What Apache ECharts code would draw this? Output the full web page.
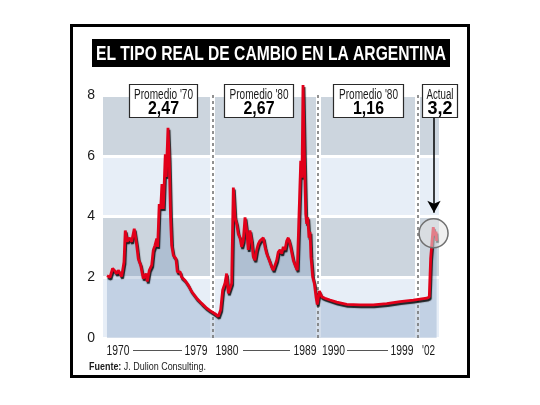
<!DOCTYPE html>
<html>
<head>
<meta charset="utf-8">
<script src="https://cdn.jsdelivr.net/npm/echarts@6.0.0/dist/echarts.min.js"></script>
<style>
html,body{margin:0;padding:0;background:#fff;}
#tipoCambioChart{width:540px;height:405px;}
</style>
</head>
<body>
<div id="tipoCambioChart"></div>
<script>
var FONT = '"Liberation Sans",Arial,sans-serif';

// tipo real de cambio [año, valor]
var serie70 = [[1970.0,2.05],[1970.29,2.0],[1970.54,2.29],[1970.77,2.2],[1970.93,2.12],[1971.08,2.23],[1971.4,2.02],
    [1971.63,2.5],[1971.75,3.54],[1971.94,3.17],[1972.13,3.3],[1972.36,3.17],[1972.61,3.6],[1972.84,3.07],[1973.0,2.6],
    [1973.22,2.4],[1973.47,1.96],[1973.73,2.12],[1973.86,1.86],[1974.05,2.23],[1974.28,2.4],[1974.43,2.89],[1974.59,3.05],
    [1974.76,3.27],[1974.85,3.0],[1975.0,4.41],[1975.14,4.25],[1975.26,5.07],[1975.39,4.25],[1975.58,6.05],[1975.67,5.3],
    [1975.84,6.92],[1975.96,5.85],[1976.09,3.92],[1976.19,3.05],[1976.35,2.72],[1976.6,2.61],[1976.73,2.18],[1976.99,2.18],
    [1977.15,2.0],[1977.46,1.9],[1977.78,1.74],[1978.1,1.53],[1978.58,1.31],[1979.06,1.14],[1979.54,0.98],[1979.86,0.9]];
var serie80 = [[1980.33,0.8],[1980.65,0.71],[1980.88,0.93],[1981.07,1.58],[1981.29,1.8],[1981.45,2.12],[1981.61,1.47],
    [1981.77,1.47],[1981.93,1.8],[1982.09,4.95],[1982.25,3.97],[1982.41,3.76],[1982.56,3.43],[1982.73,3.3],[1982.89,3.0],
    [1983.04,3.2],[1983.21,3.97],[1983.37,3.54],[1983.52,2.9],[1983.68,3.54],[1983.84,3.2],[1984.0,2.67],[1984.16,2.56],
    [1984.32,2.9],[1984.48,3.1],[1984.64,3.2],[1984.8,3.2],[1984.96,3.3],[1985.12,3.0],[1985.28,2.78],[1985.53,2.56],
    [1985.76,2.34],[1985.91,2.23],[1986.08,2.4],[1986.24,2.56],[1986.39,2.83],[1986.56,2.9],[1986.72,2.78],[1986.87,3.0],
    [1987.03,2.9],[1987.2,3.2],[1987.35,3.3],[1987.51,3.1],[1987.67,2.83],[1987.83,2.56],[1988.0,2.4],[1988.21,2.23],
    [1988.4,2.23],[1988.54,5.83],[1988.66,5.28],[1988.76,8.33],[1988.88,6.15],[1989.02,4.08],[1989.11,3.76],[1989.21,3.97],
    [1989.33,3.3],[1989.43,3.5],[1989.52,2.67],[1989.68,2.01],[1989.84,1.8],[1990.0,1.36],[1990.12,1.1]];
var serie90 = [[1990.32,1.55],[1990.55,1.36],[1990.86,1.31],[1991.34,1.25],[1991.98,1.18],[1992.94,1.11],[1994.21,1.09],
    [1995.48,1.09],[1996.77,1.13],[1998.04,1.2],[1999.31,1.25],[2000.59,1.31],[2000.84,1.35],[2000.97,2.61],[2001.1,3.17],
    [2001.22,3.65],[2001.36,3.38],[2001.48,3.5],[2001.54,3.2]];

var yMin = 0;
var yMax = 8;
var yInterval = 2;
var divisiones = [1980.1, 1990.2, 1999.7];
var promTitulos = ["Promedio '70", "Promedio '80", "Promedio '80", "Actual"];
var promValores = ['2,47', '2,67', '1,16', '3,2'];
var xLabels = ['1970', '1979', '1980', '1989', '1990', '1999', "'02"];
var actualPunto = [2001.25, 3.45];
var flechaDesde = [2001.29, 7.25];
var flechaHasta = [2001.29, 4.12];

var chart;
var measureCtx = document.createElement('canvas').getContext('2d');

window.onload = function () {
    init();
};

function init(){
    chart = echarts.init(document.getElementById('tipoCambioChart'));
    var serie = serie70.concat(serie80, serie90);

    var option = {
        animation: false,
        backgroundColor: '#fff',
        grid: {left: 103, right: 101, top: 95, bottom: 67},
        xAxis: {
            type: 'value',
            min: 1969.62,
            max: 2001.77,
            axisLine: {show: false},
            axisTick: {show: false},
            axisLabel: {show: false},
            splitLine: {show: false}
        },
        yAxis: {
            type: 'value',
            min: yMin,
            max: yMax,
            interval: yInterval,
            axisLine: {show: false},
            axisTick: {show: false},
            axisLabel: {color: '#1a1a1a', fontSize: 14, fontFamily: FONT, margin: 8},
            splitLine: {show: true, lineStyle: {color: '#fff', width: 3}},
            splitArea: {show: true, areaStyle: {color: ['#e7eef7', '#ccd5de']}}
        },
        series: [
            {
                // huecos blancos detras de las divisiones
                type: 'line',
                data: [],
                z: 1,
                markLine: {
                    z: 1,
                    silent: true,
                    symbol: 'none',
                    label: {show: false},
                    lineStyle: {color: '#fff', width: 5, type: 'solid'},
                    data: divisiones.map(function (d) { return {xAxis: d}; })
                }
            },
            {
                type: 'line',
                data: serie,
                z: 2,
                clip: false,
                showSymbol: false,
                lineStyle: {width: 0},
                areaStyle: {color: 'rgba(105,140,185,0.42)'}
            },
            {
                type: 'line',
                data: [],
                z: 3,
                markLine: {
                    z: 3,
                    silent: true,
                    symbol: 'none',
                    label: {show: false},
                    lineStyle: {color: '#6e6e6e', width: 1.5, type: [3, 3]},
                    data: divisiones.map(function (d) { return {xAxis: d}; })
                }
            },
            {
                type: 'line',
                data: serie,
                z: 4,
                clip: false,
                showSymbol: false,
                lineStyle: {
                    color: '#e2001a',
                    width: 2.8,
                    shadowColor: 'rgba(0,0,0,0.85)',
                    shadowBlur: 1,
                    shadowOffsetX: 1,
                    shadowOffsetY: 2
                },
                markPoint: {
                    z: 6,
                    silent: true,
                    symbol: 'circle',
                    symbolSize: 29,
                    label: {show: false},
                    itemStyle: {color: 'rgba(228,228,228,0.55)', borderColor: '#707070', borderWidth: 1.5},
                    data: [{coord: actualPunto}]
                },
                markLine: {
                    z: 6,
                    silent: true,
                    symbol: ['none', 'arrow'],
                    symbolSize: [10, 12],
                    label: {show: false},
                    lineStyle: {color: '#000', width: 1.5, type: 'solid'},
                    data: [[{coord: flechaDesde}, {coord: flechaHasta}]]
                }
            }
        ],
        graphic: buildGraphic()
    };
    chart.setOption(option);
}

// escala horizontal para imitar la tipografia condensada del original
function fitScale(text, font, width){
    measureCtx.font = font;
    return width / measureCtx.measureText(text).width;
}

function condText(text, font, x, y, width, color, align){
    return {type: 'text', z: 101, x: x, y: y, scaleX: fitScale(text, font, width),
        style: {text: text, fill: color, font: font, textAlign: align || 'center', textVerticalAlign: 'middle'}};
}

function buildGraphic(){
    var g = [];
    // marco
    g.push({type: 'rect', z: 100, shape: {x: 71.5, y: 25.5, width: 397, height: 351},
        style: {fill: null, stroke: '#000', lineWidth: 3}});
    // titulo
    g.push({type: 'rect', z: 100, shape: {x: 92, y: 39, width: 358, height: 28}, style: {fill: '#000'}});
    g.push(condText('EL TIPO REAL DE CAMBIO EN LA ARGENTINA', 'bold 20px ' + FONT, 271, 54, 350, '#fff'));

    // cajas de promedios
    var cajas = [[129, 68], [224, 69], [333, 70], [422, 35]];
    var anchoTit = [59, 59, 59, 27];
    var anchoVal = [31, 31, 31, 25];
    for (var i = 0; i < cajas.length; i++) {
        var x = cajas[i][0], w = cajas[i][1];
        g.push({type: 'rect', z: 100, shape: {x: x + 0.5, y: 84.5, width: w, height: 33},
            style: {fill: '#fff', stroke: '#2a2a2a', lineWidth: 1.2}});
        g.push(condText(promTitulos[i], '14px ' + FONT, x + w / 2 + 0.5, 95, anchoTit[i], '#1a1a1a'));
        g.push(condText(promValores[i], 'bold 19px ' + FONT, x + w / 2 + 0.5, 109, anchoVal[i], '#000'));
    }

    // etiquetas del eje x
    var xPos = [118, 196, 227, 305, 333.5, 402, 428.5];
    for (var j = 0; j < xLabels.length; j++) {
        var ancho = xLabels[j].length === 4 ? 23 : 13;
        g.push(condText(xLabels[j], '14px ' + FONT, xPos[j], 351, ancho, '#1a1a1a'));
    }
    var tramos = [[133, 182], [243, 290], [347, 388]];
    for (var k = 0; k < tramos.length; k++) {
        g.push({type: 'line', z: 101, shape: {x1: tramos[k][0], y1: 350.5, x2: tramos[k][1], y2: 350.5},
            style: {stroke: '#555', lineWidth: 1}});
    }

    // fuente
    var fuenteFont = '11px ' + FONT;
    g.push({type: 'text', z: 101, x: 89, y: 367,
        scaleX: fitScale('Fuente: J. Dulion Consulting.', fuenteFont, 115),
        style: {text: '{b|Fuente:} J. Dulion Consulting.', fill: '#1a1a1a', font: fuenteFont,
            textVerticalAlign: 'middle',
            rich: {b: {fontWeight: 'bold', fontSize: 11, fontFamily: FONT, fill: '#1a1a1a'}}}});
    return g;
}
</script>
</body>
</html>
